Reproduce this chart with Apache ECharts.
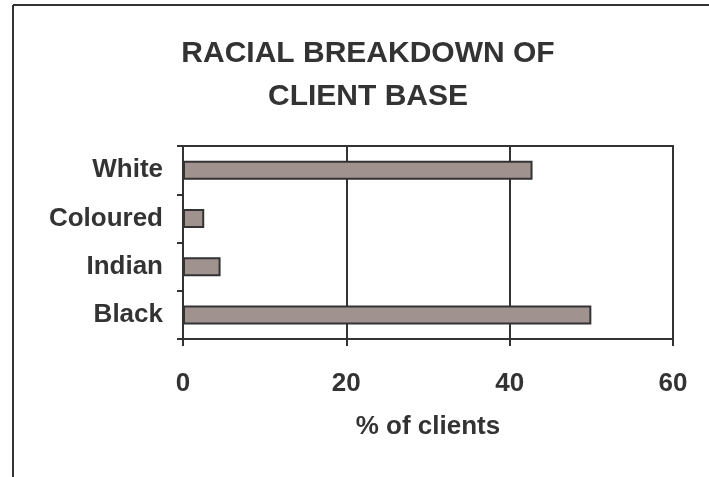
<!DOCTYPE html>
<html>
<head>
<meta charset="utf-8">
<script src="https://cdn.jsdelivr.net/npm/echarts@6/dist/echarts.min.js"></script>
<style>
  html, body { margin: 0; padding: 0; background: #fff; }
  #main { width: 709px; height: 477px; }
</style>
</head>
<body>
<div id="main"></div>
<script>
// data
var categories = ['Black', 'Indian', 'Coloured', 'White'];
var clients = [50.0, 4.6, 2.6, 42.8];
var xTicks = [0, 20, 40, 60];

var ink = '#333333';
var font = 'Liberation Sans, Arial, sans-serif';

var chart = echarts.init(document.getElementById('main'), null, { renderer: 'canvas' });

var option = {
  backgroundColor: '#ffffff',
  animation: false,
  title: {
    text: 'RACIAL BREAKDOWN OF\nCLIENT BASE',
    left: 363,
    top: 27,
    textAlign: 'center',
    textStyle: {
      color: ink,
      fontFamily: font,
      fontWeight: 'bold',
      fontSize: 30,
      lineHeight: 43
    }
  },
  // outer frame: top + left only
  graphic: [
    { type: 'line', shape: { x1: 13, y1: 5, x2: 709, y2: 5 }, style: { stroke: ink, lineWidth: 2 } },
    { type: 'line', shape: { x1: 13, y1: 5, x2: 13, y2: 477 }, style: { stroke: ink, lineWidth: 2 } }
  ],
  grid: {
    left: 183,
    right: 36,
    top: 146,
    bottom: 138,
    show: true,
    borderColor: ink,
    borderWidth: 2,
    backgroundColor: 'transparent'
  },
  xAxis: {
    type: 'value',
    min: xTicks[0],
    max: xTicks[xTicks.length - 1],
    interval: xTicks[1] - xTicks[0],
    name: '% of clients',
    nameLocation: 'middle',
    nameGap: 75,
    nameTextStyle: { color: ink, fontFamily: font, fontWeight: 'bold', fontSize: 26 },
    axisLine: { show: true, lineStyle: { color: ink, width: 2 } },
    axisTick: { show: true, inside: false, length: 7, lineStyle: { color: ink, width: 2 } },
    axisLabel: { color: ink, fontFamily: font, fontWeight: 'bold', fontSize: 26, margin: 32 },
    splitLine: { show: true, lineStyle: { color: ink, width: 2 } }
  },
  yAxis: {
    type: 'category',
    data: categories,
    axisLine: { show: true, lineStyle: { color: ink, width: 2 } },
    axisTick: { show: true, inside: false, length: 6, lineStyle: { color: ink, width: 2 } },
    axisLabel: { color: ink, fontFamily: font, fontWeight: 'bold', fontSize: 26, margin: 20 },
    splitLine: { show: false }
  },
  series: [{
    name: '% of clients',
    type: 'bar',
    data: clients,
    barWidth: 19,
    itemStyle: {
      color: '#a0938f',
      borderColor: ink,
      borderWidth: 2
    }
  }]
};

chart.setOption(option);
</script>
</body>
</html>
